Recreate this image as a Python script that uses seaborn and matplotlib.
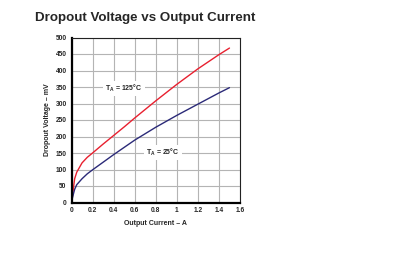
import matplotlib
matplotlib.use("Agg")
import matplotlib.pyplot as plt
import seaborn as sns
import pandas as pd

current_a = [0, 0.01, 0.02, 0.03, 0.05, 0.1, 0.15, 0.2, 0.3, 0.4, 0.5, 0.6, 0.8, 1.0, 1.2, 1.4, 1.5]
dropout_125c = [0, 22, 48, 72, 92, 120, 137, 150, 177, 203, 229, 256, 308, 358, 405, 448, 468]
dropout_25c = [0, 15, 28, 40, 54, 72, 87, 99, 122, 145, 167, 189, 228, 264, 298, 332, 348]
x_ticks = [0, 0.2, 0.4, 0.6, 0.8, 1, 1.2, 1.4, 1.6]
x_tick_labels = ["0", "0.2", "0.4", "0.6", "0.8", "1", "1.2", "1.4", "1.6"]
y_ticks = [0, 50, 100, 150, 200, 250, 300, 350, 400, 450, 500]

sns.set_theme(style="white")
plt.rcParams['font.family'] = ['Liberation Sans', 'DejaVu Sans']

df = pd.DataFrame({
    "I": current_a * 2,
    "V": dropout_125c + dropout_25c,
    "T": ["125"] * len(current_a) + ["25"] * len(current_a),
})

fig = plt.figure(figsize=(4.05, 2.62), dpi=100)
ax = fig.add_axes([71.5 / 405, 1 - 202.5 / 262, (240 - 71.5) / 405, (202.5 - 37.5) / 262])

sns.lineplot(data=df, x="I", y="V", hue="T", palette={"125": "#e8202f", "25": "#2b2a78"},
             ax=ax, legend=False, linewidth=1.0)

ax.set_xlim(0, 1.6)
ax.set_ylim(0, 500)
ax.set_xticks(x_ticks)
ax.set_yticks(y_ticks)
ax.set_xticklabels(x_tick_labels, fontsize=4.8, fontweight="bold")
ax.set_yticklabels([str(v) for v in y_ticks], fontsize=4.8, fontweight="bold")
ax.tick_params(axis="both", length=0, pad=3.5)
ax.grid(True, color="#b4b4b4", linewidth=0.8)
ax.set_axisbelow(True)
for s in ["left", "bottom"]:
    ax.spines[s].set_color("black")
    ax.spines[s].set_linewidth(1.6)
for s in ["top", "right"]:
    ax.spines[s].set_color("#222222")
    ax.spines[s].set_linewidth(0.8)

ax.set_xlabel("Output Current – A", fontsize=5, fontweight="bold", labelpad=4)
ax.set_ylabel("Dropout Voltage – mV", fontsize=5, fontweight="bold", labelpad=3)

ax.text(0.5, 345, r"T$_\mathregular{A}$ = 125°C", fontsize=5, fontweight="bold",
        ha="center", va="center", bbox=dict(facecolor="white", edgecolor="none", pad=1.5))
ax.text(0.87, 152, r"T$_\mathregular{A}$ = 25°C", fontsize=5, fontweight="bold",
        ha="center", va="center", bbox=dict(facecolor="white", edgecolor="none", pad=1.5))

fig.text(35 / 405, 1 - 18 / 262, "Dropout Voltage vs Output Current", fontsize=9.6,
         fontweight="bold", ha="left", va="center")

fig.savefig("out.png", dpi=100)
